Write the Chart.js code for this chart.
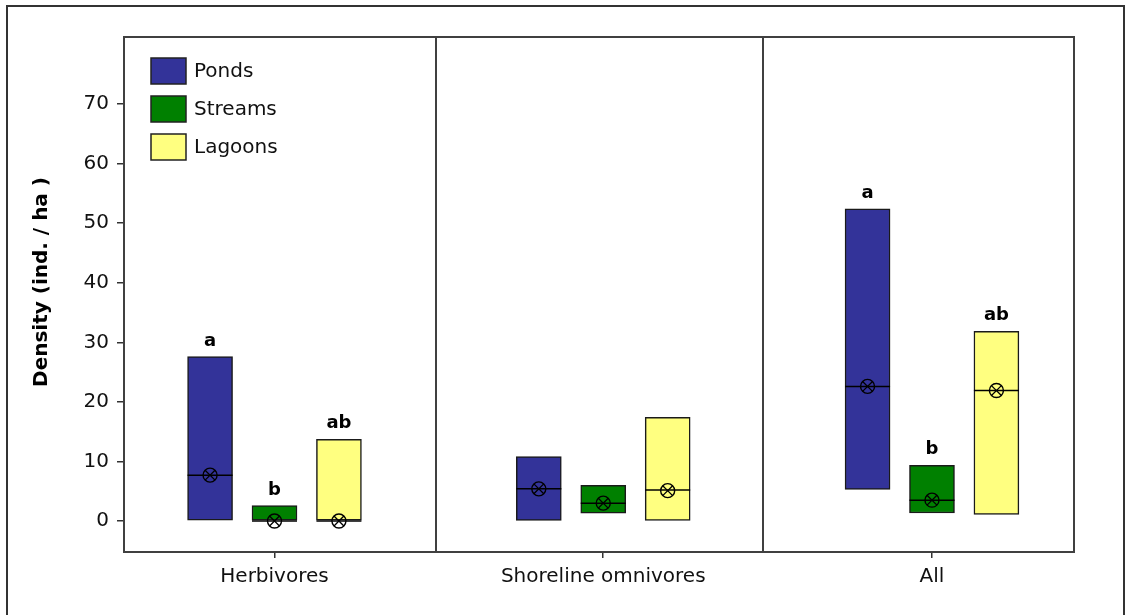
<!DOCTYPE html>
<html>
<head>
<meta charset="utf-8">
<title>Density by guild and habitat</title>
<script src="https://cdn.jsdelivr.net/npm/chart.js@4.4.1/dist/chart.umd.min.js"></script>
<style>
  html, body { margin: 0; padding: 0; background: #fff; }
  #wrap { position: relative; width: 1127px; height: 615px; }
</style>
</head>
<body>
<div id="wrap"><canvas id="c" width="1127" height="615"></canvas></div>
<script>
// Guilds along the x axis and habitats shown as boxes within each guild
const categories = ['Herbivores', 'Shoreline omnivores', 'All'];
const seriesNames = ['Ponds', 'Streams', 'Lagoons'];
const seriesColors = ['#333399', '#008000', '#FFFF80'];

// Box limits (lower and upper quartile), median and mean, per guild
const pondsLow = [0, 0.1, 5.3];
const pondsHigh = [27.6, 10.8, 52.4];
const pondsMedian = [7.7, 5.4, 22.6];
const pondsMean = [7.7, 5.4, 22.6];

const streamsLow = [0, 1.3, 1.35];
const streamsHigh = [2.6, 6.0, 9.35];
const streamsMedian = [0, 3.0, 3.5];
const streamsMean = [0, 3.0, 3.5];

const lagoonsLow = [0, 0.1, 1.1];
const lagoonsHigh = [13.7, 17.4, 31.85];
const lagoonsMedian = [0, 5.2, 21.9];
const lagoonsMean = [0, 5.1, 21.9];

// Significance letters above each box
const pondsLetters = ['a', '', 'a'];
const streamsLetters = ['b', '', 'b'];
const lagoonsLetters = ['ab', '', 'ab'];

const yTicks = [0, 10, 20, 30, 40, 50, 60, 70];

const lows = [pondsLow, streamsLow, lagoonsLow];
const highs = [pondsHigh, streamsHigh, lagoonsHigh];
const medians = [pondsMedian, streamsMedian, lagoonsMedian];
const means = [pondsMean, streamsMean, lagoonsMean];
const letters = [pondsLetters, streamsLetters, lagoonsLetters];

// Horizontal spread of the three habitat boxes around each guild position
const seriesOffset = [-0.196, 0, 0.196];
const panelDividers = [1.491, 2.486];
const FONT = '"DejaVu Sans", Verdana, sans-serif';

const xOf = (s, i) => (i + 1) + seriesOffset[s];

const datasets = [];
seriesNames.forEach((name, s) => {
  datasets.push({
    type: 'bar',
    label: name,
    data: categories.map((_, i) => ({ x: xOf(s, i), y: [lows[s][i], highs[s][i]] })),
    backgroundColor: seriesColors[s],
    borderColor: '#1a1a1a',
    borderWidth: 1.5,
    borderSkipped: false,
    barThickness: 45,
    grouped: false,
    order: 3,
    letters: letters[s]
  });
});
seriesNames.forEach((name, s) => {
  datasets.push({
    type: 'scatter',
    label: name + ' median',
    data: categories.map((_, i) => ({ x: xOf(s, i), y: medians[s][i] })),
    pointStyle: 'line',
    pointRadius: 22.5,
    pointHoverRadius: 22.5,
    borderColor: '#000',
    borderWidth: 1.5,
    order: 2
  });
});
seriesNames.forEach((name, s) => {
  datasets.push({
    type: 'scatter',
    label: name + ' mean',
    data: categories.map((_, i) => ({ x: xOf(s, i), y: means[s][i] })),
    pointStyle: 'circle',
    pointRadius: 7,
    backgroundColor: 'rgba(0,0,0,0)',
    borderColor: '#000',
    borderWidth: 1.4,
    order: 1
  });
  datasets.push({
    type: 'scatter',
    label: name + ' mean cross',
    data: categories.map((_, i) => ({ x: xOf(s, i), y: means[s][i] })),
    pointStyle: 'crossRot',
    pointRadius: 7,
    borderColor: '#000',
    borderWidth: 1.3,
    order: 1
  });
});

// Frame, plot box, panel dividers, legend, letters and axis title
const decorations = {
  id: 'decorations',
  beforeDraw(chart) {
    const ctx = chart.ctx;
    ctx.save();
    ctx.fillStyle = '#fff';
    ctx.fillRect(0, 0, chart.width, chart.height);
    ctx.strokeStyle = '#333';
    ctx.lineWidth = 2;
    ctx.beginPath();
    ctx.moveTo(7, chart.height);
    ctx.lineTo(7, 6);
    ctx.lineTo(1124, 6);
    ctx.lineTo(1124, chart.height);
    ctx.stroke();
    ctx.restore();
  },
  afterDraw(chart) {
    const ctx = chart.ctx;
    const a = chart.chartArea;
    const xs = chart.scales.x;
    ctx.save();
    ctx.strokeStyle = '#404040';
    ctx.lineWidth = 2;
    ctx.strokeRect(a.left, a.top, a.right - a.left, a.bottom - a.top);
    panelDividers.forEach(v => {
      const px = Math.round(xs.getPixelForValue(v));
      ctx.beginPath();
      ctx.moveTo(px, a.top);
      ctx.lineTo(px, a.bottom);
      ctx.stroke();
    });

    // legend
    ctx.font = '20px ' + FONT;
    ctx.textBaseline = 'middle';
    ctx.textAlign = 'left';
    seriesNames.forEach((name, s) => {
      const top = a.top + 21 + s * 38;
      ctx.fillStyle = seriesColors[s];
      ctx.fillRect(151, top, 35, 26);
      ctx.strokeStyle = '#222';
      ctx.lineWidth = 1.5;
      ctx.strokeRect(151, top, 35, 26);
      ctx.fillStyle = '#111';
      ctx.fillText(name, 194, top + 14);
    });

    // letters above boxes
    ctx.font = 'bold 18px ' + FONT;
    ctx.textAlign = 'center';
    ctx.textBaseline = 'alphabetic';
    ctx.fillStyle = '#000';
    chart.data.datasets.forEach((ds, di) => {
      if (!ds.letters) return;
      chart.getDatasetMeta(di).data.forEach((el, i) => {
        const txt = ds.letters[i];
        if (!txt) return;
        const top = Math.min(el.y, el.base);
        ctx.fillText(txt, el.x, top - 11);
      });
    });

    // y axis title
    ctx.font = 'bold 20px ' + FONT;
    ctx.translate(42, 282);
    ctx.rotate(-Math.PI / 2);
    ctx.textBaseline = 'middle';
    ctx.fillText('Density (ind. / ha )', 0, 0);
    ctx.restore();
  }
};

new Chart(document.getElementById('c'), {
  type: 'bar',
  data: { datasets },
  options: {
    responsive: false,
    devicePixelRatio: 1,
    animation: false,
    events: [],
    layout: { padding: { left: 0, top: 37, right: 53, bottom: 0 } },
    plugins: { legend: { display: false }, tooltip: { enabled: false } },
    scales: {
      x: {
        type: 'linear',
        min: 0.5422,
        max: 3.432,
        offset: false,
        afterFit(scale) { scale.height = 63; },
        afterBuildTicks(scale) { scale.ticks = categories.map((_, i) => ({ value: i + 1 })); },
        ticks: {
          autoSkip: false,
          maxRotation: 0,
          padding: 7,
          color: '#111',
          font: { family: FONT, size: 20 },
          callback: (v) => categories[Math.round(v) - 1] || ''
        },
        grid: { offset: false, drawOnChartArea: false, drawTicks: true, tickLength: 6, color: '#333', lineWidth: 1.5 },
        border: { display: false }
      },
      y: {
        type: 'linear',
        min: -5.2,
        max: 81.25,
        afterFit(scale) { scale.width = 124; },
        afterBuildTicks(scale) { scale.ticks = yTicks.map(v => ({ value: v })); },
        ticks: {
          padding: 8,
          color: '#111',
          font: { family: FONT, size: 20 },
          callback: (v) => String(v)
        },
        grid: { drawOnChartArea: false, drawTicks: true, tickLength: 7, color: '#333', lineWidth: 1.5 },
        border: { display: false }
      }
    }
  },
  plugins: [decorations]
});
</script>
</body>
</html>
